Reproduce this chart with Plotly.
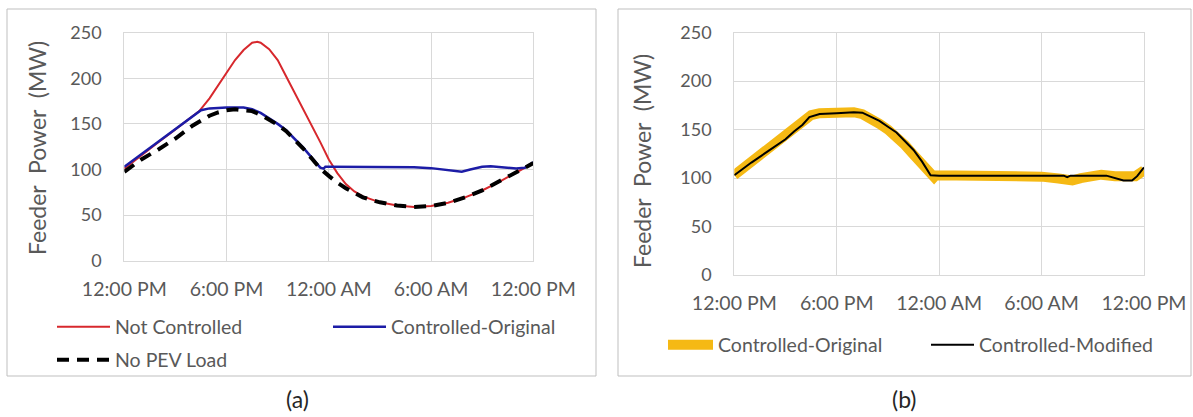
import plotly.graph_objects as go

# ---------------- data (hours after 12:00 PM, MW) ----------------
hours_nc = [0, 1, 2, 3, 4, 4.4, 5, 5.5, 6, 6.5, 7, 7.5, 7.8, 8, 8.5, 9, 9.5, 10, 10.5,
            11, 11.5, 12, 12.5, 13, 13.5, 14, 15, 16, 17, 18, 19, 20, 21, 22, 23, 24]
not_controlled = [101, 116, 130, 144, 158, 164, 178, 192, 205, 220, 231, 239, 240, 239, 232,
                  220, 202, 184, 167, 148, 130, 111, 96, 84, 76, 70.5, 64, 60.5, 59, 60,
                  63.5, 69.5, 77, 86.5, 96.5, 107]

hours_co = [0, 1, 2, 3, 4, 4.5, 5, 6, 7, 7.5, 8, 8.5, 9, 9.5, 10, 10.5, 11, 11.5, 11.7,
            11.8, 12, 14, 16, 17, 18, 19, 19.8, 20.3, 21, 21.5, 22.3, 23, 23.5, 24]
controlled_original = [103, 117, 131, 145, 158, 165, 167, 168, 168, 166, 162, 156, 150, 143,
                       134, 124, 113, 102, 101, 103, 103, 103, 103, 102.5, 101.5, 99.5, 97.5,
                       100, 103, 103.5, 102, 101, 102, 108]

hours_np = [0, 1, 2, 3, 4, 4.5, 5, 5.5, 6, 6.5, 7, 7.5, 8, 8.5, 9, 9.5, 10, 10.5, 11, 11.5,
            12, 12.5, 13, 13.5, 14, 15, 16, 17, 18, 19, 20, 21, 22, 23, 24]
no_pev_load = [97.5, 111, 122, 134, 148, 154, 159, 162.5, 165, 166, 165.5, 164, 160, 155, 149,
               142, 133, 123, 112, 101, 93, 85.5, 79.5, 74.5, 69.5, 64, 60.5, 59, 60, 63.5,
               69.5, 77, 86.5, 97, 107]

hours_cm = [0, 1, 2, 3, 3.5, 4, 4.4, 5, 6, 7, 7.5, 8, 8.5, 9, 9.5, 10, 10.5, 11, 11.5, 12,
            16, 19.3, 19.5, 19.7, 21.8, 22.3, 22.8, 23.3, 23.6, 24]
controlled_modified = [103, 116, 128, 140, 148, 155, 163, 166, 167, 168, 167.5, 163, 159, 153,
                       147, 138, 129, 117, 103, 102.5, 102.5, 102.5, 101, 102.5, 102.5, 100,
                       97.5, 97.5, 102, 111]

tick_vals = [0, 6, 12, 18, 24]
tick_text = ["12:00 PM", "6:00 PM", "12:00 AM", "6:00 AM", "12:00 PM"]

W, H = 1193, 417


def px(x):
    return x / W


def py(y):
    return 1 - y / H


FONT = "Lato"
GRAY = "#595959"
GRID = "#d9d9d9"

fig = go.Figure()

# panel (a)
fig.add_trace(go.Scatter(x=hours_nc, y=not_controlled, name="Not Controlled", mode="lines",
                         line=dict(color="#d7282d", width=2), xaxis="x", yaxis="y",
                         legend="legend"))
fig.add_trace(go.Scatter(x=hours_co, y=controlled_original, name="Controlled-Original",
                         mode="lines", line=dict(color="#1c1ca6", width=2.5), xaxis="x",
                         yaxis="y", legend="legend2"))
fig.add_trace(go.Scatter(x=hours_np, y=no_pev_load, name="No PEV Load", mode="lines",
                         line=dict(color="black", width=4, dash="12px,8px"), xaxis="x",
                         yaxis="y", legend="legend3"))
# panel (b)
fig.add_trace(go.Scatter(x=hours_co, y=controlled_original, name="Controlled-Original",
                         mode="lines", line=dict(color="#f5b914", width=10), xaxis="x2",
                         yaxis="y2", legend="legend4"))
fig.add_trace(go.Scatter(x=hours_cm, y=controlled_modified, name="Controlled-Modified",
                         mode="lines", line=dict(color="black", width=2), xaxis="x2",
                         yaxis="y2", legend="legend5"))

xcommon = dict(range=[0, 24], tickvals=tick_vals, ticktext=tick_text, showgrid=True,
               gridcolor=GRID, gridwidth=1, zeroline=False, showline=True, linecolor=GRID,
               mirror=True, ticks="", tickfont=dict(family=FONT, size=19.5, color=GRAY),
               ticklabelstandoff=11, fixedrange=True, automargin=False)
ycommon = dict(range=[0, 250], dtick=50, showgrid=True, gridcolor=GRID, gridwidth=1,
               zeroline=False, showline=True, linecolor=GRID, mirror=True, ticks="",
               tickfont=dict(family=FONT, size=18, color=GRAY), ticklabelstandoff=18,
               fixedrange=True, automargin=False)

legfont = dict(family=FONT, size=19.5, color=GRAY)
legcommon = dict(orientation="h", bgcolor="rgba(0,0,0,0)", font=legfont, xanchor="left",
                 yanchor="middle", itemclick=False, itemdoubleclick=False)

fig.update_layout(
    width=W, height=H, margin=dict(l=0, r=0, t=0, b=0, autoexpand=False),
    showlegend=True,
    paper_bgcolor="white", plot_bgcolor="white",
    font=dict(family=FONT, color=GRAY),
    xaxis=dict(domain=[px(124.3), px(533.3)], anchor="y", **xcommon),
    yaxis=dict(domain=[py(260.7), py(32.7)], anchor="x", **ycommon),
    xaxis2=dict(domain=[px(734.3), px(1144)], anchor="y2", **xcommon),
    yaxis2=dict(domain=[py(275), py(32.7)], anchor="x2", **ycommon),
    legend=dict(x=px(52), y=py(327), itemwidth=53, **legcommon),
    legend2=dict(x=px(328), y=py(327), itemwidth=53, **legcommon),
    legend3=dict(x=px(52), y=py(360), itemwidth=53, **legcommon),
    legend4=dict(x=px(663), y=py(345), itemwidth=45, **legcommon),
    legend5=dict(x=px(926), y=py(345), itemwidth=43, **legcommon),
    shapes=[
        dict(type="rect", xref="paper", yref="paper", x0=px(7), x1=px(596), y0=py(376),
             y1=py(9), line=dict(color="#bfbfbf", width=1), fillcolor="rgba(0,0,0,0)",
             layer="below"),
        dict(type="rect", xref="paper", yref="paper", x0=px(618), x1=px(1191), y0=py(376),
             y1=py(9), line=dict(color="#bfbfbf", width=1), fillcolor="rgba(0,0,0,0)",
             layer="below"),
    ],
    annotations=[
        dict(text="Feeder\u00a0\u00a0Power\u00a0\u00a0(MW)", x=px(37), y=py(148), xref="paper",
             yref="paper", textangle=-90, showarrow=False, xanchor="center", yanchor="middle",
             font=dict(family=FONT, size=23, color=GRAY)),
        dict(text="Feeder\u00a0\u00a0Power\u00a0\u00a0(MW)", x=px(642), y=py(161), xref="paper",
             yref="paper", textangle=-90, showarrow=False, xanchor="center", yanchor="middle",
             font=dict(family=FONT, size=23, color=GRAY)),
        dict(text="(a)", x=px(297), y=py(399), xref="paper", yref="paper", showarrow=False,
             xanchor="center", yanchor="middle", font=dict(family=FONT, size=23, color="#262626")),
        dict(text="(b)", x=px(904), y=py(399), xref="paper", yref="paper", showarrow=False,
             xanchor="center", yanchor="middle", font=dict(family=FONT, size=23, color="#262626")),
    ],
)

fig.write_html("out.html", config=dict(displayModeBar=False, staticPlot=True))
